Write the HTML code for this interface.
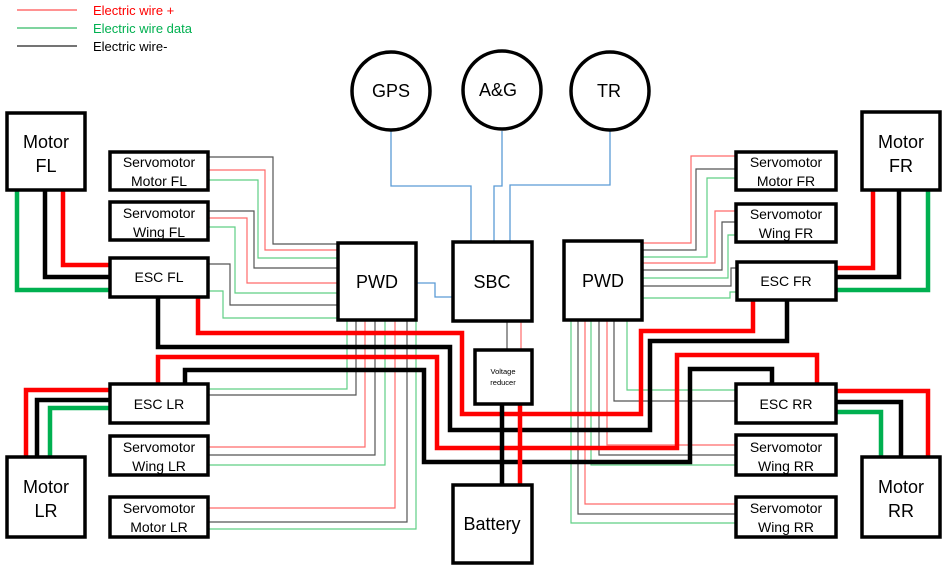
<!DOCTYPE html>
<html><head><meta charset="utf-8"><style>
html,body{margin:0;padding:0;background:#fff;}
svg{display:block;}
text{font-family:"Liberation Sans",sans-serif;}
</style></head><body>
<svg width="945" height="569" viewBox="0 0 945 569" xmlns="http://www.w3.org/2000/svg">
<g fill="none" stroke-linejoin="miter">
<line x1="17" y1="10" x2="77" y2="10" stroke="#ff5050" stroke-width="1.2"/>
<line x1="17" y1="28" x2="77" y2="28" stroke="#33bb66" stroke-width="1.2"/>
<line x1="17" y1="46" x2="77" y2="46" stroke="#222" stroke-width="1.2"/>

<g stroke="#5b9bd5" stroke-width="1.3">
<polyline points="391,131 391,186 471,186 471,243"/>
<polyline points="502,131 502,186 494,186 494,243"/>
<polyline points="610,131 610,185 510,185 510,243"/>
<polyline points="416,283 435,283 435,297 453,297"/>
</g>

<g stroke-width="1.2">
<polyline stroke="#555" points="208,157 273,157 273,244 338,244"/>
<polyline stroke="#ff6a6a" points="208,170 265,170 265,250 338,250"/>
<polyline stroke="#5fcf85" points="208,180 258,180 258,258 338,258"/>
<polyline stroke="#555" points="208,211 254,211 254,268 338,268"/>
<polyline stroke="#ff6a6a" points="208,218 247,218 247,283 338,283"/>
<polyline stroke="#5fcf85" points="208,227 235,227 235,293 338,293"/>
<polyline stroke="#555" points="208,264 230,264 230,305 338,305"/>
<polyline stroke="#5fcf85" points="208,291 223,291 223,318 338,318"/>
<polyline stroke="#5fcf85" points="347,320 347,389 208,389"/>
<polyline stroke="#555" points="356,320 356,395 208,395"/>
<polyline stroke="#ff6a6a" points="365,320 365,447 208,447"/>
<polyline stroke="#555" points="375,320 375,455 208,455"/>
<polyline stroke="#5fcf85" points="385,320 385,465 208,465"/>
<polyline stroke="#ff6a6a" points="395,320 395,508 208,508"/>
<polyline stroke="#555" points="407,320 407,522 208,522"/>
<polyline stroke="#5fcf85" points="416,320 416,529 208,529"/>
<polyline stroke="#ff6a6a" points="642,243 691,243 691,156 736,156"/>
<polyline stroke="#555" points="642,250 696,250 696,169 736,169"/>
<polyline stroke="#5fcf85" points="642,257 707,257 707,178 736,178"/>
<polyline stroke="#ff6a6a" points="642,263 715,263 715,211 736,211"/>
<polyline stroke="#555" points="642,270 722,270 722,222 736,222"/>
<polyline stroke="#5fcf85" points="642,278 728,278 728,235 736,235"/>
<polyline stroke="#555" points="642,286 731,286 731,268 737,268"/>
<polyline stroke="#5fcf85" points="642,298 730,298 730,292 737,292"/>
<polyline stroke="#5fcf85" points="571,320 571,523 736,523"/>
<polyline stroke="#555" points="578,320 578,514 736,514"/>
<polyline stroke="#ff6a6a" points="585,320 585,504 736,504"/>
<polyline stroke="#5fcf85" points="591,320 591,465 736,465"/>
<polyline stroke="#555" points="599,320 599,455 736,455"/>
<polyline stroke="#ff6a6a" points="607,320 607,445 736,445"/>
<polyline stroke="#555" points="614,320 614,401 736,401"/>
<polyline stroke="#5fcf85" points="627,320 627,390 736,390"/>
<line stroke="#555" x1="507" y1="321" x2="507" y2="350"/>
<line stroke="#ff6a6a" x1="521" y1="321" x2="521" y2="350"/>
</g>

<g stroke-width="4.5">
<polyline stroke="#00b050" points="17,190 17,290 109,290"/>
<polyline stroke="#000" points="45,190 45,277 109,277"/>
<polyline stroke="#ff0000" points="63,190 63,265 109,265"/>
<polyline stroke="#ff0000" points="873,190 873,268 836,268"/>
<polyline stroke="#000" points="899,190 899,277 836,277"/>
<polyline stroke="#00b050" points="928,190 928,290 836,290"/>
<polyline stroke="#ff0000" points="26,457 26,390 109,390"/>
<polyline stroke="#000" points="37,457 37,400 109,400"/>
<polyline stroke="#00b050" points="50,457 50,408 109,408"/>
<polyline stroke="#ff0000" points="836,391 928,391 928,457"/>
<polyline stroke="#000" points="836,402 901,402 901,457"/>
<polyline stroke="#00b050" points="836,412 881,412 881,457"/>
<polyline stroke="#000" points="158,297 158,347 450,347 450,430 650,430 650,341 787,341 787,300"/>
<polyline stroke="#ff0000" points="198,297 198,333 462,333 462,414 641,414 641,331 753,331 753,300"/>
<polyline stroke="#ff0000" points="158,384 158,357 437,357 437,448 677,448 677,355 817,355 817,384"/>
<polyline stroke="#000" points="185,384 185,370 424,370 424,462 690,462 690,369 772,369 772,384"/>
<line stroke="#000" x1="502" y1="404" x2="502" y2="485"/>
<line stroke="#ff0000" x1="520" y1="404" x2="520" y2="485"/>
</g>

<g stroke="#000" stroke-width="3.5" fill="#fff">
<circle cx="391" cy="91" r="39"/>
<circle cx="502" cy="90" r="39"/>
<circle cx="610" cy="91" r="39"/>
</g>

<g stroke="#000" stroke-width="3.5" fill="#fff">
<rect x="7" y="113" width="78" height="77"/>
<rect x="110" y="152" width="98" height="38"/>
<rect x="110" y="202" width="98" height="38"/>
<rect x="110" y="258" width="98" height="39"/>
<rect x="338" y="243" width="78" height="77"/>
<rect x="453" y="242" width="79" height="79"/>
<rect x="564" y="241" width="78" height="79"/>
<rect x="736" y="152" width="100" height="38"/>
<rect x="736" y="204" width="100" height="38"/>
<rect x="737" y="262" width="99" height="38"/>
<rect x="862" y="112" width="78" height="78"/>
<rect x="475" y="350" width="57" height="54"/>
<rect x="453" y="485" width="79" height="78"/>
<rect x="110" y="384" width="98" height="39"/>
<rect x="110" y="436" width="98" height="39"/>
<rect x="110" y="497" width="98" height="40"/>
<rect x="7" y="457" width="78" height="80"/>
<rect x="736" y="384" width="100" height="39"/>
<rect x="736" y="435" width="100" height="40"/>
<rect x="736" y="497" width="100" height="40"/>
<rect x="862" y="457" width="78" height="80"/>
</g>
</g>

<g font-size="13">
<text x="93" y="15" fill="#ff0000">Electric wire +</text>
<text x="93" y="33" fill="#00b050">Electric wire data</text>
<text x="93" y="51" fill="#000">Electric wire-</text>
</g>

<g text-anchor="middle" fill="#000">
<g font-size="18">
<text x="391" y="97">GPS</text>
<text x="498" y="96">A&amp;G</text>
<text x="609" y="97">TR</text>
<text x="46" y="148">Motor</text><text x="46" y="172">FL</text>
<text x="901" y="148">Motor</text><text x="901" y="172">FR</text>
<text x="46" y="493">Motor</text><text x="46" y="517">LR</text>
<text x="901" y="493">Motor</text><text x="901" y="517">RR</text>
<text x="377" y="288">PWD</text>
<text x="492" y="288">SBC</text>
<text x="603" y="287">PWD</text>
<text x="492" y="530">Battery</text>
</g>
<g font-size="14">
<text x="159" y="167">Servomotor</text><text x="159" y="186">Motor FL</text>
<text x="159" y="218">Servomotor</text><text x="159" y="237">Wing FL</text>
<text x="159" y="282">ESC FL</text>
<text x="786" y="167">Servomotor</text><text x="786" y="186">Motor FR</text>
<text x="786" y="219">Servomotor</text><text x="786" y="238">Wing FR</text>
<text x="786" y="286">ESC FR</text>
<text x="159" y="409">ESC LR</text>
<text x="159" y="452">Servomotor</text><text x="159" y="471">Wing LR</text>
<text x="159" y="513">Servomotor</text><text x="159" y="532">Motor LR</text>
<text x="786" y="409">ESC RR</text>
<text x="786" y="452">Servomotor</text><text x="786" y="471">Wing RR</text>
<text x="786" y="513">Servomotor</text><text x="786" y="532">Wing RR</text>
</g>
<g font-size="7.5">
<text x="503" y="374">Voltage</text><text x="503" y="385">reducer</text>
</g>
</g>
</svg>
</body></html>
